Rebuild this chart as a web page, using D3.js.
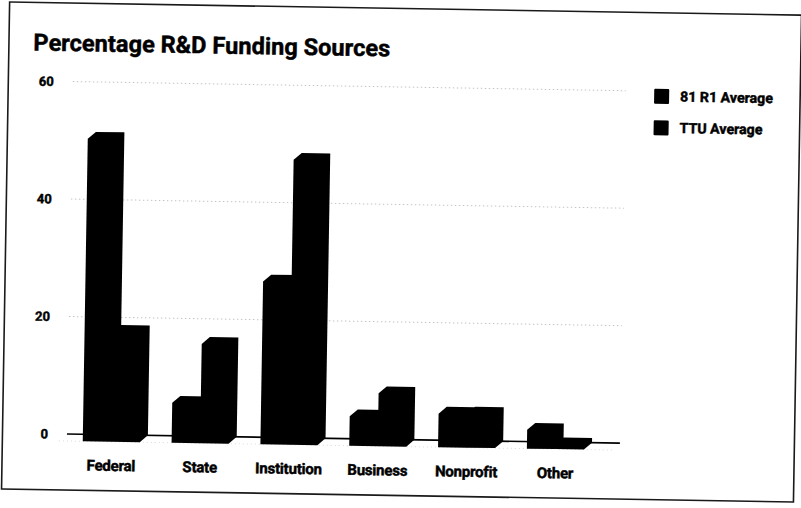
<!DOCTYPE html>
<html>
<head>
<meta charset="utf-8">
<script src="https://cdn.jsdelivr.net/npm/d3@7"></script>
<style>
  html, body { margin: 0; padding: 0; background: #fff; }
  svg { display: block; }
  text { font-family: Roboto, "Noto Sans", sans-serif; font-weight: 700; fill: #000; stroke: #000; stroke-width: 0.45px; }
</style>
</head>
<body>
<svg id="chart" width="801" height="508"></svg>
<script>
// ---- data ----
const categories = ["Federal", "State", "Institution", "Business", "Nonprofit", "Other"];
const seriesNames = ["81 R1 Average", "TTU Average"];
const r1Average = [51.5, 6.8, 27.7, 5.0, 5.7, 3.2];
const ttuAverage = [18.7, 16.9, 48.5, 9.0, 5.8, 0.8];
const yTicks = [0, 20, 40, 60];
const titleText = "Percentage R&D Funding Sources";

// ---- layout ----
const svg = d3.select("#chart");
svg.append("rect").attr("width", 801).attr("height", 508).attr("fill", "#fff");

const root = svg.append("g").attr("transform", "rotate(0.95, 400, 254)");

// page frame
root.append("rect")
  .attr("x", 5.5).attr("y", 8.5).attr("width", 792).attr("height", 487)
  .attr("fill", "none").attr("stroke", "#1a1a1a").attr("stroke-width", 1.6);

const depthX = 8, depthY = 7;
const y = d3.scaleLinear().domain([0, 60]).range([439.5, 87]);
const x = d3.scaleBand().domain(categories).range([70, 603])
  .paddingInner(0.358).paddingOuter(0.179);
const xs = d3.scaleBand().domain(seriesNames).range([0, x.bandwidth()]);

// title
root.append("text").attr("x", 30).attr("y", 56.6)
  .attr("font-size", 23.6).attr("stroke-width", 0.6).text(titleText);

// gridlines (back plane)
root.append("g").selectAll("line").data(yTicks.filter(t => t > 0)).join("line")
  .attr("x1", 70).attr("x2", 623)
  .attr("y1", d => y(d)).attr("y2", d => y(d))
  .attr("stroke", "#c4c4c4").attr("stroke-width", 1).attr("stroke-dasharray", "1.5 2.5");

// floor front edge (faint)
root.append("line")
  .attr("x1", 62).attr("x2", 615)
  .attr("y1", y(0) + depthY).attr("y2", y(0) + depthY)
  .attr("stroke", "#d8d8d8").attr("stroke-width", 1).attr("stroke-dasharray", "1 3");

// baseline
root.append("line")
  .attr("x1", 70).attr("x2", 623).attr("y1", y(0)).attr("y2", y(0))
  .attr("stroke", "#000").attr("stroke-width", 1.6);

// y axis labels
const yAxis = d3.axisLeft(y).tickValues(yTicks).tickSize(0).tickPadding(0);
const yg = root.append("g").attr("transform", "translate(51,0)").call(yAxis);
yg.select(".domain").remove();
yg.selectAll("text").attr("font-size", 13).attr("font-family", "Roboto, sans-serif")
  .attr("font-weight", 700).attr("fill", "#000");

// bars (3D: union of front face and back face shifted up-right)
const rows = [];
categories.forEach((c, i) => {
  rows.push({ cat: c, s: seriesNames[0], v: r1Average[i] });
  rows.push({ cat: c, s: seriesNames[1], v: ttuAverage[i] });
});
function barPath(d) {
  const x0 = x(d.cat) + xs(d.s), w = xs.bandwidth();
  const top = y(d.v), base = y(0);
  return `M${x0},${top + depthY} L${x0 + depthX},${top} L${x0 + w + depthX},${top}` +
    ` L${x0 + w + depthX},${base} L${x0 + w},${base + depthY} L${x0},${base + depthY} Z`;
}
root.append("g").selectAll("path")
  .data(rows.filter(r => r.s === seriesNames[1]).concat(rows.filter(r => r.s === seriesNames[0])))
  .join("path").attr("d", barPath).attr("fill", "#000");

// x axis labels
const xAxis = d3.axisBottom(x).tickSize(0).tickPadding(0);
const xg = root.append("g").attr("transform", "translate(0,465)").call(xAxis);
xg.select(".domain").remove();
xg.selectAll("text").attr("font-size", 15).attr("font-family", "Roboto, sans-serif")
  .attr("font-weight", 700).attr("fill", "#000").attr("letter-spacing", "-0.2px");

// legend
const lg = root.append("g").selectAll("g").data(seriesNames).join("g")
  .attr("transform", (d, i) => `translate(651.5, ${84.5 + i * 31.5})`);
lg.append("rect").attr("width", 15).attr("height", 15).attr("rx", 1).attr("fill", "#000");
lg.append("text").attr("x", 26).attr("y", 7.5).attr("dy", "0.35em")
  .attr("font-size", 14.2).text(d => d);
</script>
</body>
</html>
